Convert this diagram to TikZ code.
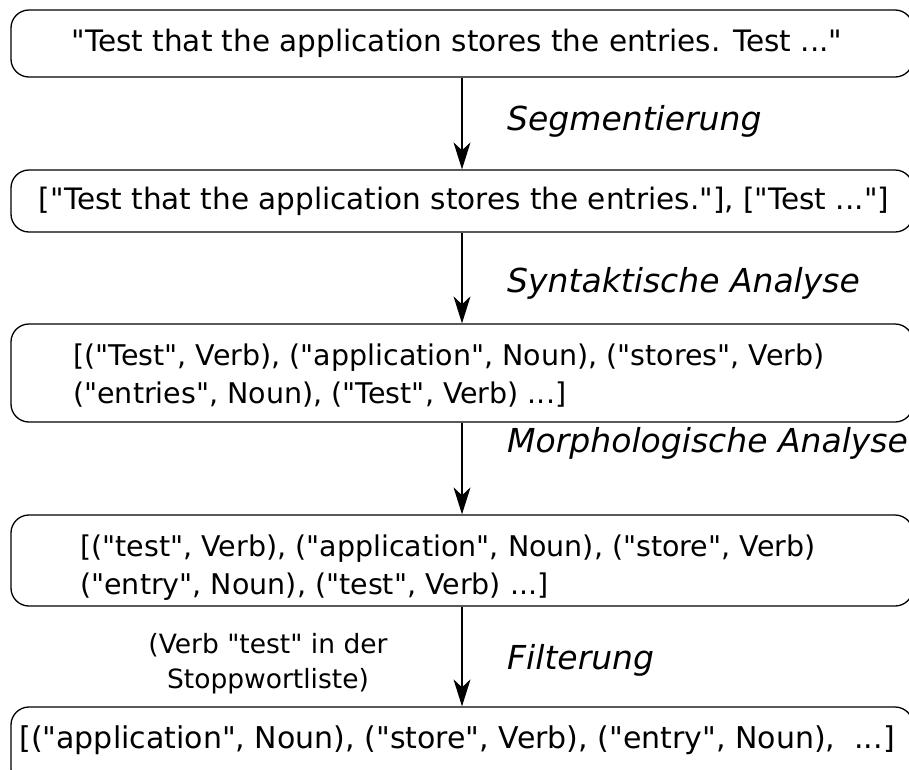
\documentclass[tikz,border=0pt]{standalone}
\usepackage{fontspec}
\setmainfont{DejaVu Sans}[Ligatures=TeXOff]
\usetikzlibrary{arrows.meta}
\begin{document}
\begin{tikzpicture}[x=1pt,y=-1pt,
  stage/.style={draw=black, line width=1.3pt, rounded corners=18pt, minimum width=902pt},
  txt/.style={inner sep=0pt, font=\fontsize{29.5}{38}\selectfont},
  tup/.style={inner sep=0pt, anchor=west, align=left, font=\fontsize{28.5}{38}\selectfont},
  note/.style={inner sep=0pt, font=\fontsize{26.5}{35}\selectfont},
  lbl/.style={inner sep=0pt, anchor=west, font=\fontsize{33}{40}\selectfont\itshape},
  flow/.style={draw=black, line width=1.3pt, -{Stealth[length=27pt,width=17pt,inset=8pt]}}]
\useasboundingbox (0,0) rectangle (909,769);
\clip (0,0) rectangle (909,769);

% processing stages (boxes run past the right border)
\node[stage, minimum height=67pt] (b1) at (462,43.5) {};
\node[stage, minimum height=62pt] (b2) at (462,201) {};
\node[stage, minimum height=98pt] (b3) at (462,373) {};
\node[stage, minimum height=91pt] (b4) at (462,560.5) {};
\node[stage, minimum height=80pt] (b5) at (462,747) {};

% stage contents
\node[txt] (t1) at (457,43) {"Test that the application stores the entries. Test ..."};
\node[txt] (t2) at (464,201) {["Test that the application stores the entries."], ["Test ..."]};
\node[tup] (t3) at (73,376)
  {[("Test", Verb), ("application", Noun), ("stores", Verb)\\("entries", Noun), ("Test", Verb) ...]};
\node[tup] (t4) at (80,568)
  {[("test", Verb), ("application", Noun), ("store", Verb)\\("entry", Noun), ("test", Verb) ...]};
\node[txt, font=\fontsize{30}{38}\selectfont] (t5) at (457,740)
  {[("application", Noun), ("store", Verb), ("entry", Noun),\ \ ...]};

% transitions
\draw[flow] (b1) -- (b2);
\draw[flow] (b2) -- (b3);
\draw[flow] (b3) -- (b4);
\draw[flow] (b4) -- (b5);

\node[lbl] (l1) at (507,121) {Segmentierung};
\node[lbl] (l2) at (507,283) {Syntaktische Analyse};
\node[lbl] (l3) at (507,443) {Morphologische Analyse};
\node[lbl] (l4) at (507,660) {Filterung};
\node[note, align=center] (n4) at (268,664) {(Verb "test" in der\\Stoppwortliste)};
\end{tikzpicture}
\end{document}
